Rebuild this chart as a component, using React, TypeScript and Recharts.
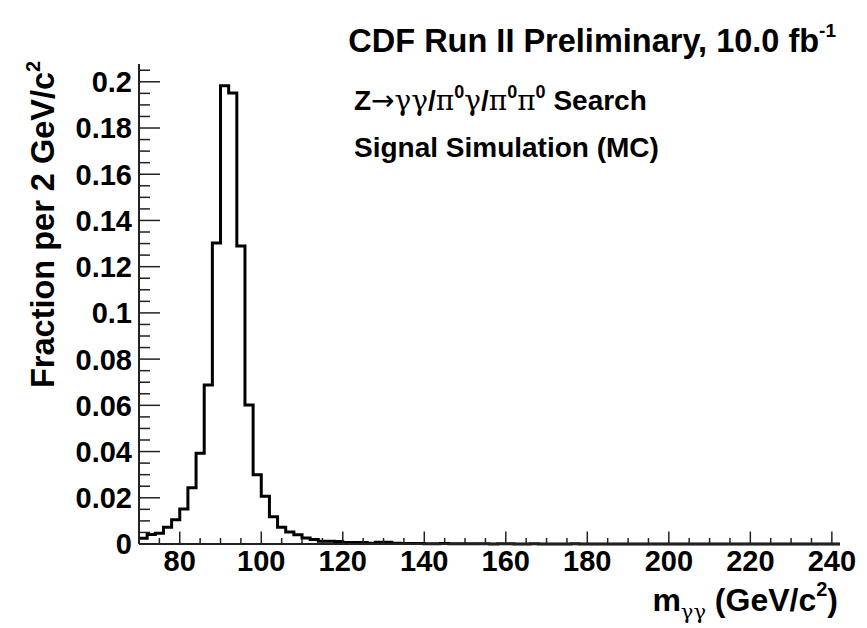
import { ComposedChart, Line, XAxis, YAxis } from 'recharts';

// 2 GeV bins starting at 70 GeV/c^2
const binStart = 70;
const binWidth = 2;
const fractions = [
  0.0025, 0.0041, 0.0046, 0.0072, 0.0105, 0.0151, 0.0243, 0.0393, 0.0688, 0.1302,
  0.1983, 0.1951, 0.129, 0.0602, 0.03, 0.0207, 0.0118, 0.0072, 0.0052, 0.004,
  0.0026, 0.0019, 0.0012, 0.0012, 0.0011, 0.0006, 0.0006, 0.0006, 0.0003, 0.0008,
  0.0008, 0.0003,
  0.0002, 0.0002, 0.0002, 0.0001, 0.0001, 0.0002, 0.0001, 0.0001, 0.0001, 0.0001,
  0.0001, 0, 0.0001, 0.0001, 0, 0, 0.0001, 0, 0, 0,
  0, 0.0001, 0, 0, 0, 0, 0, 0, 0, 0,
  0, 0, 0, 0, 0, 0, 0, 0, 0, 0,
  0, 0, 0, 0, 0, 0, 0, 0, 0, 0,
  0, 0, 0, 0,
];

const xDomain = [70, 242];
const yDomain = [0, 0.2077];
const xLabelTicks = [80, 100, 120, 140, 160, 180, 200, 220, 240];
const yLabelTicks = [0, 0.02, 0.04, 0.06, 0.08, 0.1, 0.12, 0.14, 0.16, 0.18, 0.2];

const data = fractions
  .map((f, i) => ({ m: binStart + i * binWidth, f }))
  .concat([{ m: binStart + fractions.length * binWidth, f: fractions[fractions.length - 1] }]);

// minor ticks: 4 subdivisions between labels
const xTicks: number[] = [];
for (let v = 70; v <= 240; v += 5) xTicks.push(v);
const yTicks: number[] = [];
for (let i = 0; i <= 41; i++) yTicks.push(Number((i * 0.005).toFixed(3)));

const font = '"Liberation Sans", Arial, Helvetica, sans-serif';
const greek = '"DejaVu Serif", "Liberation Serif", serif';
const arrow = '"DejaVu Sans", sans-serif';
const frame = '#222';

const XTick = ({ x, y, payload }: any) => {
  const major = xLabelTicks.includes(payload.value);
  return (
    <g>
      <line x1={x} x2={x} y1={y} y2={y - (major ? 12.5 : 6)} stroke={frame} strokeWidth={1.5} />
      {major && (
        <text x={x} y={y + 27} textAnchor="middle" fontFamily={font} fontWeight="bold" fontSize={29} fill="#000">
          {payload.value}
        </text>
      )}
    </g>
  );
};

const YTick = ({ x, y, payload }: any) => {
  const v = payload.value;
  const major = yLabelTicks.some((t) => Math.abs(t - v) < 1e-9);
  return (
    <g>
      <line x1={x} x2={x + (major ? 21 : 11)} y1={y} y2={y} stroke={frame} strokeWidth={1.5} />
      {major && (
        <text x={x - 7} y={y} dy="0.36em" textAnchor="end" fontFamily={font} fontWeight="bold" fontSize={29} fill="#000">
          {String(Number(v.toFixed(3)))}
        </text>
      )}
    </g>
  );
};

export default function App() {
  return (
    <div style={{ position: 'absolute', left: 0, top: 0, width: 867, height: 628, background: '#fff' }}>
      <ComposedChart width={867} height={628} data={data} margin={{ top: 64, right: 27, bottom: 0, left: 0 }}>
        <XAxis
          dataKey="m"
          type="number"
          domain={xDomain}
          ticks={xTicks}
          interval={0}
          height={84}
          tickSize={0}
          tickMargin={0}
          tickLine={false}
          axisLine={{ stroke: frame, strokeWidth: 2 }}
          tick={<XTick />}
        />
        <XAxis
          xAxisId="top"
          orientation="top"
          type="number"
          domain={xDomain}
          height={0}
          tick={false}
          tickLine={false}
          axisLine={{ stroke: frame, strokeWidth: 2 }}
        />
        <YAxis
          type="number"
          domain={yDomain}
          ticks={yTicks}
          interval={0}
          width={139}
          tickSize={0}
          tickMargin={0}
          tickLine={false}
          axisLine={{ stroke: frame, strokeWidth: 2 }}
          tick={<YTick />}
        />
        <YAxis
          yAxisId="right"
          orientation="right"
          type="number"
          domain={yDomain}
          width={0}
          tick={false}
          tickLine={false}
          axisLine={{ stroke: frame, strokeWidth: 2 }}
        />
        <Line
          type="stepAfter"
          dataKey="f"
          stroke="#000"
          strokeWidth={3}
          dot={false}
          activeDot={false}
          isAnimationActive={false}
        />
      </ComposedChart>
      <svg width={867} height={628} style={{ position: 'absolute', left: 0, top: 0, pointerEvents: 'none' }}>
        <g fontFamily={font} fontWeight="bold" fill="#000">
          <text x={836} y={52} textAnchor="end" fontSize={32.5}>
            CDF Run II Preliminary, 10.0 fb
            <tspan dy={-15} fontSize={19}>-1</tspan>
          </text>
          <text x={354} y={110} fontSize={28}>
            Z
            <tspan fontFamily={arrow} fontWeight="normal">→</tspan>
            <tspan fontFamily={greek} fontWeight="normal">γγ</tspan>
            /
            <tspan fontFamily={greek} fontWeight="normal">π</tspan>
            <tspan dy={-12} fontSize={18}>0</tspan>
            <tspan dy={12} fontFamily={greek} fontWeight="normal">γ</tspan>
            /
            <tspan fontFamily={greek} fontWeight="normal">π</tspan>
            <tspan dy={-12} fontSize={18}>0</tspan>
            <tspan dy={12} fontFamily={greek} fontWeight="normal">π</tspan>
            <tspan dy={-12} fontSize={18}>0</tspan>
            <tspan dy={12}> Search</tspan>
          </text>
          <text x={354} y={157} fontSize={28}>
            Signal Simulation (MC)
          </text>
          <text transform="translate(54,388) rotate(-90)" x={0} y={0} fontSize={32.5}>
            Fraction per 2 GeV/c
            <tspan dy={-14} fontSize={20}>2</tspan>
          </text>
          <text x={838} y={611} textAnchor="end" fontSize={32}>
            m
            <tspan dy={8} fontSize={21} fontFamily={greek} fontWeight="normal">γγ</tspan>
            <tspan dy={-8}> (GeV/c</tspan>
            <tspan dy={-15} fontSize={20}>2</tspan>
            <tspan dy={15}>)</tspan>
          </text>
        </g>
      </svg>
    </div>
  );
}
